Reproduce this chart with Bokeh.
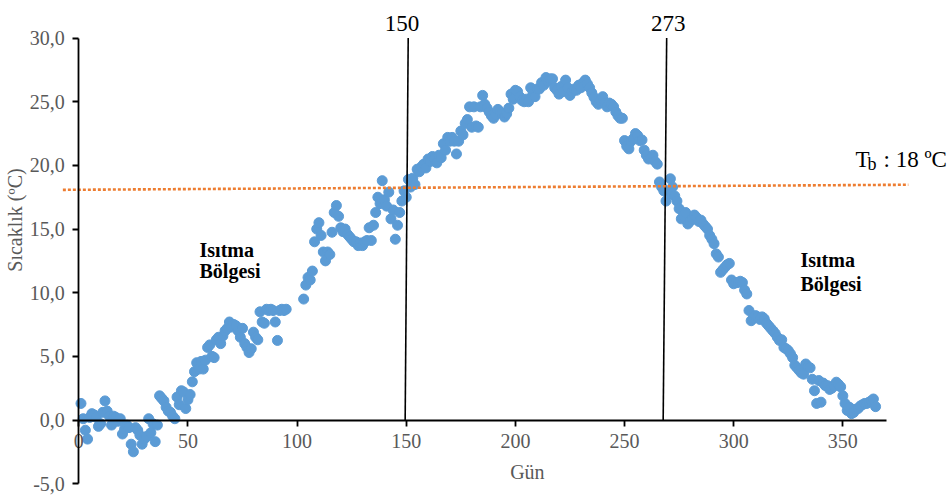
import numpy as np
from bokeh.plotting import figure
from bokeh.models import ColumnDataSource, FixedTicker, CustomJSTickFormatter, Range1d
from bokeh.core.properties import value
from bokeh.embed import file_html
from bokeh.resources import INLINE

# ---------------- data ----------------
temps = [
    1.3, 0.1, -0.8, -1.5, 0.2, 0.5, 0.4, 0.2, -0.5, -0.3,
    0.6, 1.5, 0.7, 0.3, -0.4, 0.3, 0.2, -0.1, 0.1, -1.1,
    -0.7, -0.4, -0.6, -1.9, -2.5, -0.6, -0.8, -1.2, -1.9, -1.5,
    -1.3, 0.1, -1.0, -0.3, -1.7, -0.4, 1.9, 1.7, 1.5, 1.0,
    0.7, 0.6, 0.3, 0.1, 1.8, 1.2, 2.3, 2.2, 0.9, 1.6,
    2.0, 3.0, 3.8, 4.5, 4.0, 4.6, 4.0, 4.7, 5.7, 5.9,
    5.0, 4.9, 6.3, 6.5, 6.0, 6.6, 7.0, 7.2, 7.7, 7.3,
    7.5, 7.4, 7.0, 6.5, 7.2, 6.0, 5.7, 5.3, 5.6, 6.9,
    6.5, 6.3, 8.5, 7.7, 7.6, 8.7, 8.6, 8.7, 8.6, 7.7,
    6.25, 8.6, 8.7, 8.6, 8.7, None, None, None, None, None,
    None, None, 9.5, 10.6, 11.2, 11.0, 11.7, 14.0, 15.0, 15.5,
    14.5, 13.2, 12.5, 13.2, 13.0, 14.75, 16.3, 16.85, 16.0, 15.1,
    14.8, 15.0, 14.6, 14.4, 14.2, 14.0, 14.0, 13.7, 13.9, 13.7,
    14.0, 14.1, 15.1, 14.1, 15.3, 16.3, 17.5, 17.0, 18.8, 17.3,
    16.8, 17.9, 15.8, 16.5, 14.2, 15.3, 16.3, 17.2, 18.0, 17.5,
    18.9, 18.3, 19.0, 18.5, 19.7, 19.5, 19.9, 20.1, 19.8, 20.5,
    20.3, 20.7, 20.5, 20.2, 20.8, 20.6, 21.7, 21.2, 22.2, 21.9,
    22.2, 21.9, 20.9, 21.9, 22.7, 22.4, 23.3, 23.6, 24.6, 23.0,
    24.6, 23.1, 23.0, 24.6, 25.5, 24.8, 24.5, 24.2, 23.9, 23.7,
    24.0, 24.4, 24.2, 24.05, 23.8, 24.05, 24.5, 25.6, 25.2, 25.9,
    25.8, 25.4, 25.1, 25.0, 25.2, 25.0, 26.1, 25.6, 25.4, 26.0,
    26.0, 26.5, 26.3, 26.9, 26.6, 26.8, 26.8, 26.1, 25.9, 25.6,
    26.2, 25.8, 26.7, 26.1, 25.5, 25.8, 26.0, 25.9, 26.3, 26.1,
    26.5, 26.7, 26.4, 26.1, 25.7, 25.35, 25.0, 24.8, 25.1, 25.4,
    24.9, 24.6, 24.9, 24.8, 24.6, 24.2, 23.9, 23.7, 23.7, 21.95,
    21.5, 21.3, 21.9, 22.1, 22.5, 22.35, 21.95, 22.0, 21.2, 20.8,
    20.5, 20.6, 20.8, 20.3, 20.1, 18.7, 18.3, 18.0, 17.2, 17.8,
    18.95, 18.3, 17.6, 17.2, 16.6, 15.8, 16.0, 16.3, 15.4, 15.6,
    15.8, 16.1, 15.9, 15.6, 15.7, 15.4, 15.2, 15.0, 14.5, 14.2,
    13.85, 13.05, 12.8, 11.6, 11.8, 12.0, 12.2, 12.3, 11.0, 10.7,
    10.8, 10.8, 10.9, 10.8, 10.2, 9.9, 8.6, 7.8, 8.0, 8.2,
    8.1, 7.9, 8.1, 7.95, 7.6, 7.4, 7.2, 7.0, 6.8, 6.5,
    6.25, 6.3, 5.7, 5.6, 5.45, 5.2, 4.9, 4.3, 4.1, 3.9,
    3.7, 3.6, 4.4, 4.2, 4.1, 3.2, 2.3, 1.3, 3.1, 1.4,
    2.9, 2.7, 2.7, 2.4, 2.5, 2.7, 2.97, 2.8, 2.6, 1.9,
    1.3, 0.75, 1.0, 0.5, 0.6, 0.85, 0.9, 1.1, 1.2, 1.3,
    1.3, 1.4, 1.5, 1.65, 1.05,
]
days = list(range(1, len(temps) + 1))

x_ticks = [0, 50, 100, 150, 200, 250, 300, 350]
y_ticks = [-5, 0, 5, 10, 15, 20, 25, 30]

# boundary lines (slightly slanted as drawn in the original)
boundary_labels = ["150", "273"]
boundary_top_x = [150.9, 269.3]
boundary_bottom_x = [149.5, 267.7]
boundary_top_y = [30, 30]
boundary_bottom_y = [0, 0]

# base temperature line Tb : 18 ºC
tb_x = [-7.3, 380.0]
tb_y = [18.08, 18.48]

# ---------------- figure ----------------
W, H = 949, 497
p = figure(width=W, height=H, output_backend="svg", toolbar_location=None,
           x_range=Range1d(-35.87, 398.86), y_range=Range1d(-6.088, 32.954),
           min_border=0, min_border_left=0, min_border_right=0,
           min_border_top=0, min_border_bottom=0)
p.outline_line_color = None
p.grid.visible = False
p.background_fill_color = "white"
p.border_fill_color = "white"

FONT = "Liberation Serif"
GRAY = "#595959"

for ax in (p.xaxis[0], p.yaxis[0]):
    ax.fixed_location = 0
    ax.axis_line_color = "black"
    ax.axis_line_width = 1.8
    ax.major_tick_line_color = "black"
    ax.major_tick_line_width = 1.8
    ax.major_tick_in = 0
    ax.major_tick_out = 6
    ax.minor_tick_line_color = None
    ax.major_label_text_font = FONT
    ax.major_label_text_font_size = "20px"
    ax.major_label_text_color = GRAY
    ax.major_label_standoff = 8

p.xaxis[0].ticker = FixedTicker(ticks=x_ticks)
p.yaxis[0].ticker = FixedTicker(ticks=y_ticks)
p.xaxis[0].bounds = (0, 370)
p.yaxis[0].bounds = (-5, 30)
p.yaxis[0].formatter = CustomJSTickFormatter(code="return tick.toFixed(1).replace('.', ',');")
p.xaxis[0].formatter = CustomJSTickFormatter(code="return tick.toFixed(0);")

# scatter
d = np.array(days, dtype=float)
t = np.array([np.nan if v is None else v for v in temps], dtype=float)
mask = ~np.isnan(t)
src = ColumnDataSource(dict(x=d[mask], y=t[mask]))
p.scatter("x", "y", source=src, size=10, fill_color="#5B9BD5", line_color="#5B9BD5")

# boundary lines
p.segment(x0=boundary_top_x, y0=boundary_top_y, x1=boundary_bottom_x, y1=boundary_bottom_y,
          line_color="black", line_width=1.6)
# Tb line
p.line(tb_x, tb_y, line_color="#ED7D31", line_width=2.6, line_dash="3 2")

# boundary labels
p.text(x=[148.1, 270.0], y=[31.17, 31.17], text=boundary_labels,
       text_font=value(FONT), text_font_size="23px", text_color="black",
       text_align="center", text_baseline="alphabetic")

# Tb label
p.text(x=[355.8], y=[20.45], text=["T"], text_font=value(FONT), text_font_size="23px",
       text_color="black", text_align="left", text_baseline="alphabetic")
p.text(x=[355.8], y=[20.45], text=["b"], x_offset=12, y_offset=4, text_font=value(FONT),
       text_font_size="18px", text_color="black", text_align="left", text_baseline="alphabetic")
p.text(x=[355.8], y=[20.45], text=[": 18 ºC"], x_offset=28, text_font=value(FONT),
       text_font_size="23px", text_color="black", text_align="left", text_baseline="alphabetic")

# heating-zone labels
p.text(x=[55.3, 55.3, 330.6, 330.6], y=[13.37, 11.74, 12.53, 10.70],
       text=["Isıtma", "Bölgesi", "Isıtma", "Bölgesi"],
       text_font=value(FONT), text_font_size="20px", text_font_style="bold",
       text_color="black", text_align="left", text_baseline="alphabetic")

# axis titles
p.text(x=[-29.0], y=[15.71], text=["Sıcaklık (ºC)"], angle=np.pi / 2,
       text_font=value(FONT), text_font_size="20px", text_color=GRAY,
       text_align="center", text_baseline="middle")
p.text(x=[205.5], y=[-4.12], text=["Gün"],
       text_font=value(FONT), text_font_size="20px", text_color=GRAY,
       text_align="center", text_baseline="middle")

open("out.html", "w").write(file_html(p, INLINE))
